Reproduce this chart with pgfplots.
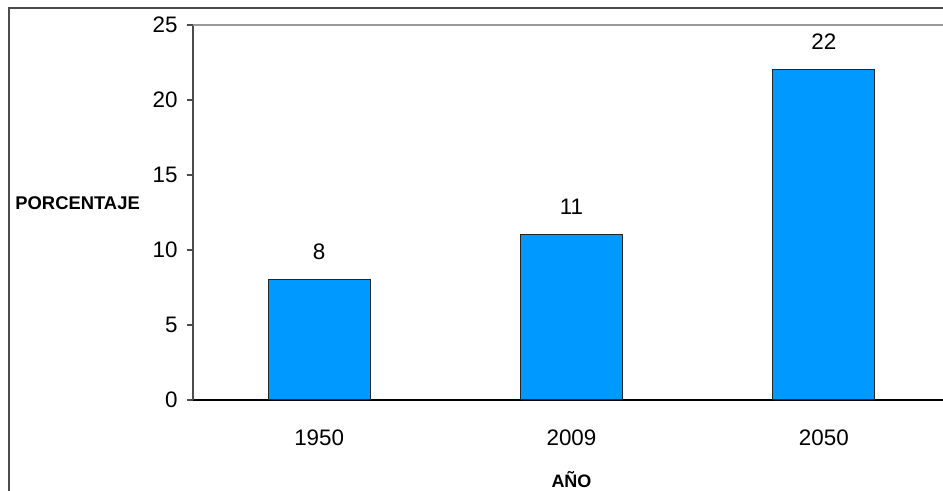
\documentclass[border=0pt]{standalone}
\usepackage{pgfplots}
\pgfplotsset{compat=1.18}
\usepackage{fontspec}
\setmainfont{Liberation Sans}
\definecolor{barblue}{HTML}{0099FF}
\begin{document}
\begin{tikzpicture}[x=0.5pt,y=0.5pt]
\useasboundingbox (0,0) rectangle (943,491);
% outer frame of the chart area
\draw[line width=1pt, black!70] (9,-10) -- (9,483) -- (960,483);
\begin{axis}[
  at={(96.5pt,45.5pt)}, anchor=south west,
  scale only axis, width=378.5pt, height=187.5pt,
  xmin=-0.5, xmax=2.5, ymin=0, ymax=25,
  /pgf/number format/assume math mode=true,
  axis lines*=left,
  x axis line style={black, line width=0.9pt},
  y axis line style={black!70, line width=1pt},
  xtick={0,1,2}, xticklabels={1950,2009,2050},
  ytick={0,5,...,25},
  xtick style={draw=none},
  ytick style={black!70, line width=0.8pt},
  tick align=outside, major tick length=3pt,
  ticklabel style={font=\fontsize{11.2}{13}\selectfont},
  x tick label style={anchor=center, yshift=-16pt},
  y tick label style={anchor=east, inner sep=0pt, xshift=-4.5pt},
  xlabel={AÑO},
  xlabel style={at={(axis description cs:0.5,0)}, anchor=center, yshift=-40pt, font=\bfseries\fontsize{9}{11}\selectfont},
  ylabel={PORCENTAJE},
  ylabel style={rotate=-90, at={(axis description cs:0,0.525)}, anchor=west, inner sep=0pt, xshift=-89pt, font=\bfseries\fontsize{9.2}{11}\selectfont},
  ybar, bar width=51pt,
  nodes near coords,
  nodes near coords style={anchor=center, yshift=14pt, font=\fontsize{11.2}{13}\selectfont},
  clip=false,
]
\addplot[fill=barblue, draw=black!85, line width=0.5pt] coordinates {(0,8) (1,11) (2,22)};
\draw[black!40, line width=0.8pt] (rel axis cs:0,1) -- (rel axis cs:1,1);
\end{axis}
\end{tikzpicture}
\end{document}
